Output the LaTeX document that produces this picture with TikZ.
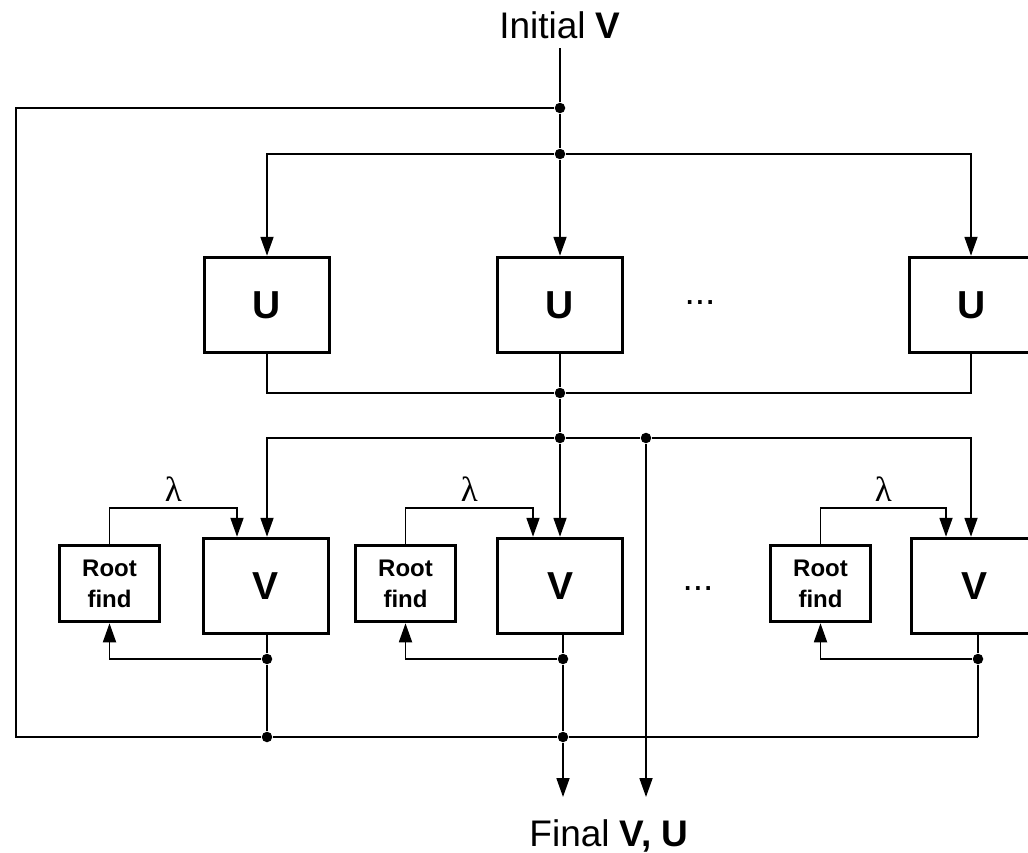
\documentclass[tikz,border=0pt]{standalone}
\usepackage{fontspec}
\setmainfont{Liberation Sans}
\newfontfamily\lamfont{Liberation Serif}
\usetikzlibrary{arrows.meta,calc}
\begin{document}
\begin{tikzpicture}[x=1pt,y=-1pt,
  line width=1.8pt,
  arr/.style={-{Triangle[length=19pt,width=13pt]}},
  bigbox/.style={draw,line width=3.5pt,minimum width=125pt,minimum height=95pt,inner sep=0pt,
    font=\fontsize{39}{42}\selectfont\bfseries},
  rootbox/.style={draw,line width=3.5pt,minimum width=100pt,minimum height=76pt,inner sep=0pt,
    align=center,font=\fontsize{24}{31}\selectfont\bfseries},
  jdot/.style={circle,fill,inner sep=0pt,minimum size=10.5pt},
  lbl/.style={font=\fontsize{37}{40}\selectfont,inner sep=0pt},
  lam/.style={font=\lamfont\fontsize{35}{38}\selectfont,inner sep=0pt},
]
\clip (0,0) rectangle (1028,852);

% texts
\node[lbl,anchor=base] (init) at (560,38) {Initial \textbf{V}};
\node[lbl,anchor=base] (final) at (609,846) {Final \textbf{V, U}};
\node[lbl,anchor=base] (dotsU) at (700,304) {...};
\node[lbl,anchor=base] (dotsV) at (698,590) {...};

% U row
\node[bigbox] (U1) at (267,305) {U};
\node[bigbox] (U2) at (560,305) {U};
\node[bigbox] (U3) at (972,305) {U};

% V row
\node[bigbox] (V1) at (266,586) {V};
\node[bigbox] (V2) at (560,586) {V};
\node[bigbox] (V3) at (974,586) {V};
\node[rootbox] (R1) at (109.5,583.5) {Root\\find};
\node[rootbox] (R2) at (405.5,583.5) {Root\\find};
\node[rootbox] (R3) at (820.5,583.5) {Root\\find};

% junctions
\coordinate (s) at (560,48);
\node[jdot] (d1) at (560,108) {};
\node[jdot] (d2) at (560,154) {};
\node[jdot] (d3) at (560,393) {};
\node[jdot] (d4) at (560,438) {};
\node[jdot] (d5) at (646,438) {};
\node[jdot] (f1) at (267,659) {};
\node[jdot] (f2) at (563,659) {};
\node[jdot] (f3) at (978,659) {};
\node[jdot] (b1) at (267,737) {};
\node[jdot] (b2) at (563,737) {};
\coordinate (cl) at (16,737);
\coordinate (c3) at (978,737);
\coordinate (o1) at (563,797);
\coordinate (o2) at (646,797);

% top distribution
\draw (s) -- (d1);
\draw (d1) -- (d2);
\draw[arr] (d2) -- (U2.north);
\draw[arr] (d2) -| (U1.north);
\draw[arr] (d2) -| ([xshift=-1pt]U3.north);

% U collection
\draw (U1.south) |- (d3);
\draw ([xshift=-1pt]U3.south) |- (d3);
\draw (U2.south) -- (d3);
\draw (d3) -- (d4);

% V distribution
\draw (d4) -- (d5);
\draw[arr] (d4) -| ([xshift=1pt]V1.north);
\draw[arr] (d4) -- (V2.north);
\draw[arr] (d5) -| ([xshift=-3pt]V3.north);
\draw[arr] (d5) -- (o2);

% lambda links
\draw[arr] (R1.north) |- node[lam,pos=0.75,above=5pt]{λ} ([xshift=-29pt,yshift=29pt]V1.north) -- ([xshift=-29pt]V1.north);
\draw[arr] (R2.north) |- node[lam,pos=0.75,above=5pt]{λ} ([xshift=-27pt,yshift=29pt]V2.north) -- ([xshift=-27pt]V2.north);
\draw[arr] (R3.north) |- node[lam,pos=0.75,above=5pt]{λ} ([xshift=-28pt,yshift=29pt]V3.north) -- ([xshift=-28pt]V3.north);

% V outputs and feedback
\draw ([xshift=1pt]V1.south) -- (f1);
\draw[arr] (f1) -| (R1.south);
\draw (f1) -- (b1);
\draw ([xshift=3pt]V2.south) -- (f2);
\draw[arr] (f2) -| (R2.south);
\draw (f2) -- (b2);
\draw[arr] (b2) -- (o1);
\draw ([xshift=4pt]V3.south) -- (f3);
\draw[arr] (f3) -| (R3.south);
\draw (f3) -- (c3);

% outer loop
\draw (d1) -| (cl) -- (b1);
\draw (b1) -- (b2);
\draw (b2) -- (c3);
\end{tikzpicture}
\end{document}
